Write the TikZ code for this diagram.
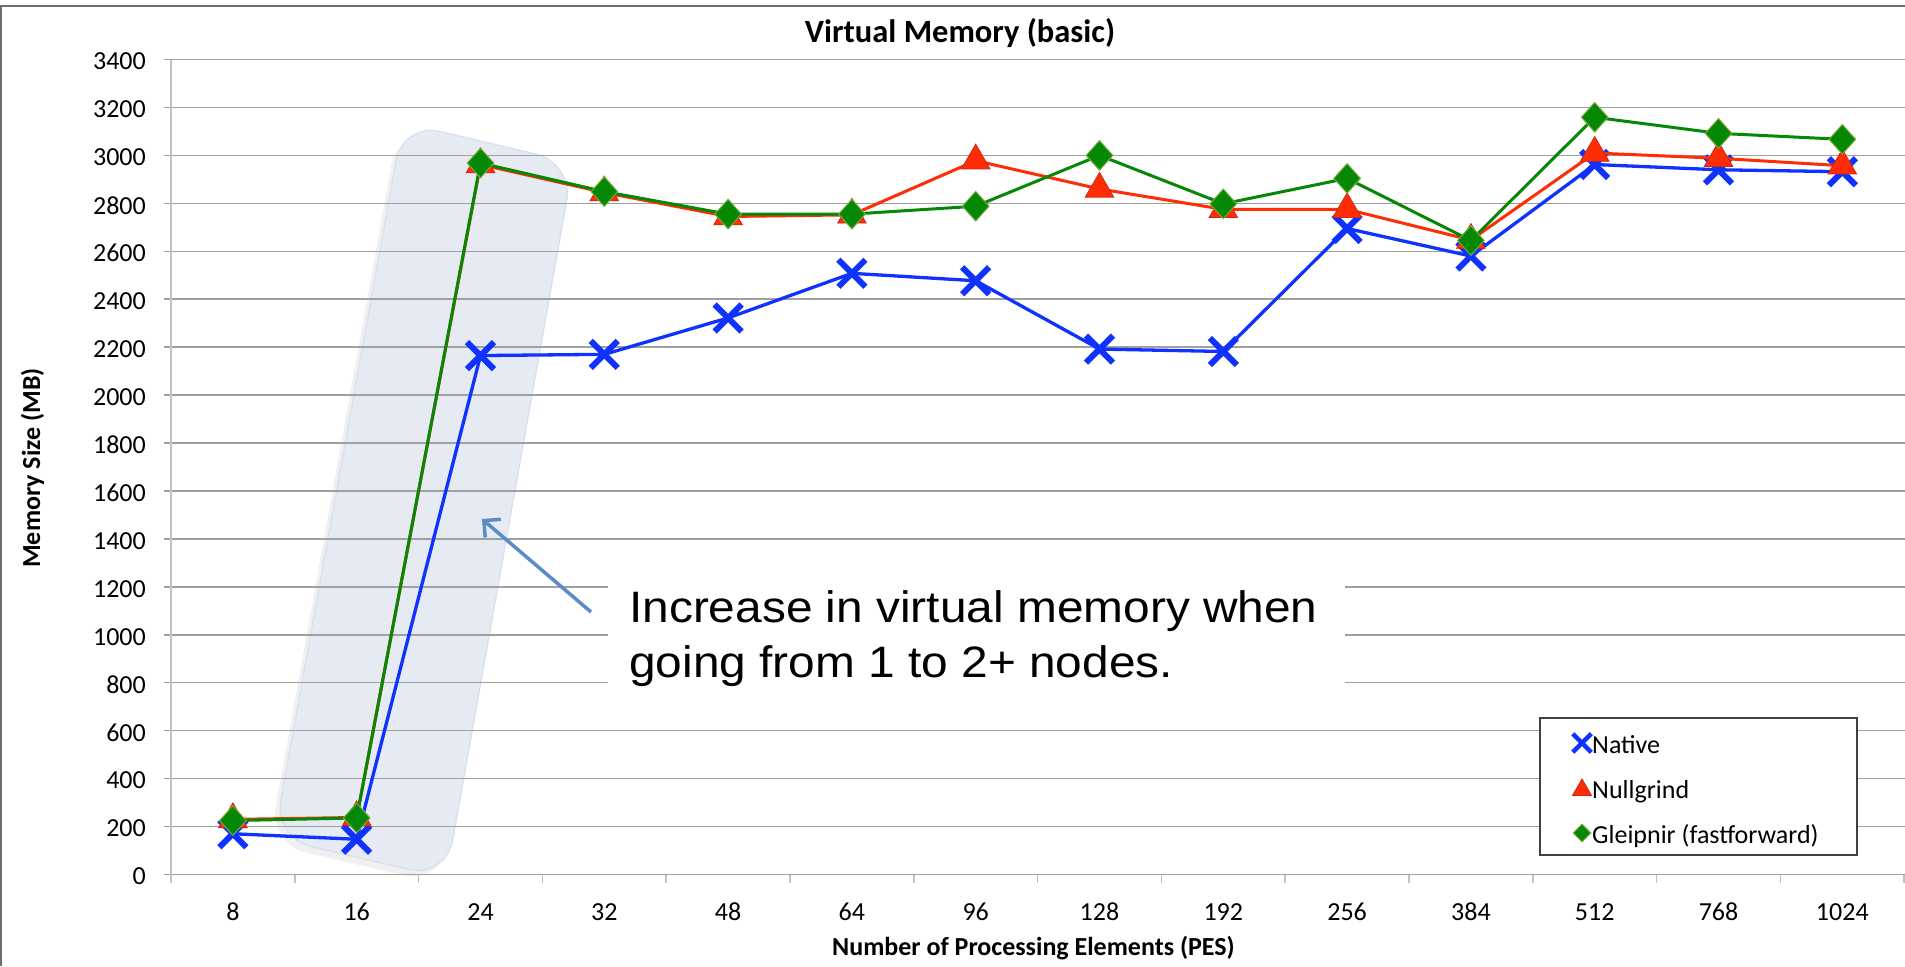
\documentclass[tikz,border=0pt]{standalone}
\usepackage{fontspec}
\setmainfont{Carlito}
\newfontfamily\notefont[FakeStretch=1.087]{Liberation Sans}
\usetikzlibrary{shapes.geometric,shapes.misc,arrows.meta}

\definecolor{natblue}{RGB}{15,50,255}
\definecolor{nullred}{RGB}{255,45,5}
\definecolor{nulledge}{RGB}{205,40,20}
\definecolor{gleigreen}{RGB}{5,136,5}
\definecolor{gleiedge}{RGB}{120,170,60}
\definecolor{gridgray}{RGB}{160,160,160}
\definecolor{axisgray}{RGB}{192,192,192}
\definecolor{framegray}{RGB}{110,110,110}
\definecolor{bandfill}{RGB}{229,234,243}
\definecolor{bandedge}{RGB}{214,224,238}
\definecolor{arrowblue}{RGB}{92,140,200}

\begin{document}
\begin{tikzpicture}
[x=1pt, y=-1pt,
 declare function={px(\i)=171+123.8*(\i-0.5); py(\v)=874.5-0.2397*\v;},
 gridline/.style={gridgray,line width=1.5pt},
 axisline/.style={axisgray,line width=1.5pt},
 ticklabel/.style={inner sep=0pt,font=\fontsize{26}{31}\selectfont},
 axistitle/.style={inner sep=0pt,font=\fontsize{26}{31}\selectfont\bfseries},
 band/.style={fill=bandfill,draw=bandedge,line width=1.2pt,rounded corners=38pt},
 natline/.style={natblue,line width=3.3pt,line join=round},
 nullline/.style={nullred,line width=3pt,line join=round},
 gleiline/.style={gleigreen,line width=3pt,line join=round},
 natmark/.style={cross out,draw=natblue,line width=6pt,minimum size=21pt,inner sep=0pt},
 nullmark/.style={regular polygon,regular polygon sides=3,fill=nullred,draw=nulledge,
   line width=0.8pt,minimum size=33pt,inner sep=0pt},
 gleimark/.style={diamond,fill=gleigreen,draw=gleiedge,line width=1pt,
   minimum width=27pt,minimum height=30pt,inner sep=0pt},
 notetext/.style={inner sep=0pt,font=\notefont\fontsize{44}{55}\selectfont},
 notearrow/.style={arrowblue,line width=3.5pt,-{Straight Barb[length=12pt,width=24pt]}},
 legendtext/.style={inner sep=0pt,font=\fontsize{26}{31}\selectfont}]

\useasboundingbox (0,0) rectangle (1905,966);

% outer frame, only top and left edges fall on the page
\draw[framegray,line width=2pt] (1905,6) -- (1,6) -- (1,966);

% highlight band around the jump, with a faint shadow
\fill[black,opacity=0.06,rounded corners=38pt] (398,128) -- (568,169) -- (441,884) -- (269,844) -- cycle;
\draw[band] (403,122.5) -- (573.4,163) -- (446,878) -- (274,838) -- cycle;

% grid lines and y labels
\foreach \v in {0,200,...,3400}{
  \draw[gridline] (164,{py(\v)}) -- (1905,{py(\v)});
  \node[ticklabel,anchor=east] (y\v) at (146,{py(\v)+2}) {\v};
}
\draw[axisline] (171,{py(3400)}) -- (171,882);
\foreach \k in {0,...,14}
  \draw[axisline] ({171+123.8*\k},874.5) -- ++(0,8);
\foreach \c [count=\i] in {8,16,24,32,48,64,96,128,192,256,384,512,768,1024}
  \node[ticklabel] (x\i) at ({px(\i)},912) {\c};

% data points
\foreach \v [count=\i] in {170,147,2165,2170,2322,2508,2477,2192,2182,2695,2580,2962,2940,2932}
  \coordinate (n\i) at ({px(\i)},{py(\v)});
\foreach \v [count=\i] in {230,238,2962,2845,2745,2752,2978,2860,2775,2775,2647,3010,2988,2957}
  \coordinate (u\i) at ({px(\i)},{py(\v)});
\foreach \v [count=\i] in {225,236,2968,2849,2755,2755,2788,3000,2798,2904,2645,3159,3092,3067}
  \coordinate (g\i) at ({px(\i)},{py(\v)});

% Native
\draw[natline] (n1) \foreach \i in {2,...,14}{ -- (n\i)};
\foreach \i in {1,...,14} \node[natmark] (nm\i) at (n\i) {};
% Nullgrind
\draw[nullline] (u1) \foreach \i in {2,...,14}{ -- (u\i)};
\foreach \i in {1,...,14} \node[nullmark] (um\i) at (u\i) {};
% Gleipnir
\draw[gleiline] (g1) \foreach \i in {2,...,14}{ -- (g\i)};
\foreach \i in {1,...,14} \node[gleimark] (gm\i) at (g\i) {};

% note with arrow
\fill[white] (608,545) rectangle (1345,715);
\node[notetext,anchor=base west] (note1) at (629,622) {Increase in virtual memory when};
\node[notetext,anchor=base west] (note2) at (629,677) {going from 1 to 2+ nodes.};
\coordinate (notetail) at (591,612);
\coordinate (notetip) at (482,519);
\draw[notearrow] (notetail) -- (notetip);

% legend
\draw[fill=white,draw=black!75,line width=1.5pt] (1540,718) rectangle (1857,855);
\node[natmark,minimum size=14pt,line width=4.5pt] (lm1) at (1582,743) {};
\node[nullmark,minimum size=22pt] (lm2) at (1582,790) {};
\node[gleimark,minimum width=18pt,minimum height=18pt] (lm3) at (1582,833) {};
\node[legendtext,anchor=base west] (lt1) at (1592,753) {Native};
\node[legendtext,anchor=base west] (lt2) at (1592,798) {Nullgrind};
\node[legendtext,anchor=base west] (lt3) at (1592,843) {Gleipnir (fastforward)};

% titles
\node[axistitle,font=\fontsize{32.5}{38}\selectfont\bfseries,anchor=base] (title) at (960,43) {Virtual Memory (basic)};
\node[axistitle,anchor=base west] (xtitle) at (832,955) {Number of Processing Elements (PES)};
\node[axistitle,rotate=90,anchor=base] (ytitle) at (40,468) {Memory Size (MB)};
\end{tikzpicture}
\end{document}
